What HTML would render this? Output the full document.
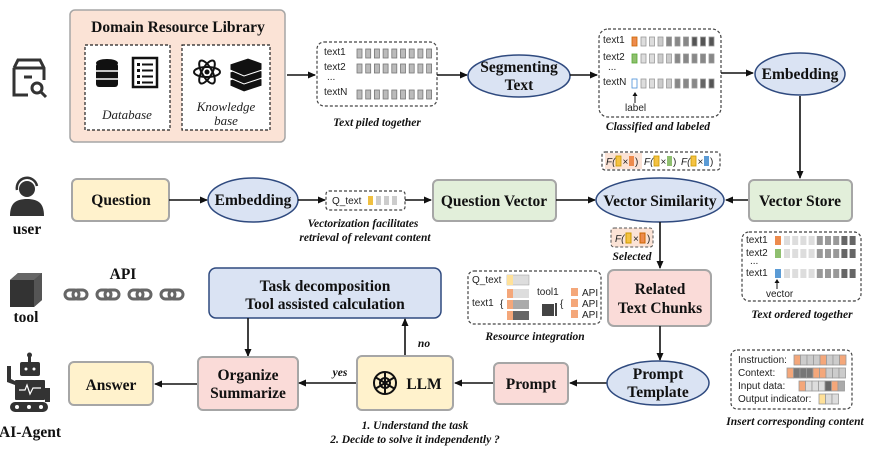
<!DOCTYPE html>
<html><head><meta charset="utf-8"><style>
html,body{margin:0;padding:0;background:#fff;}
svg{display:block;}
.t{font-family:"Liberation Serif",serif;font-weight:bold;font-size:15.5px;fill:#111;text-anchor:middle;}
.c{font-family:"Liberation Serif",serif;font-weight:bold;font-style:italic;font-size:11.5px;fill:#111;text-anchor:middle;}
.s{font-family:"Liberation Sans",sans-serif;font-size:10px;fill:#222;}
.i{font-family:"Liberation Serif",serif;font-style:italic;font-size:13px;fill:#222;text-anchor:middle;}
.ell{fill:#dae3f3;stroke:#2f4a7f;stroke-width:1.5;}
.box{stroke:#a6a6a6;stroke-width:2;}
.dash{fill:none;stroke:#444;stroke-width:1.2;stroke-dasharray:3,2;}
.ln{stroke:#111;stroke-width:1.6;fill:none;marker-end:url(#ah);}
</style></head><body>
<svg id="s" width="872" height="455" viewBox="0 0 872 455" xmlns="http://www.w3.org/2000/svg">
<defs><marker id="ah" markerWidth="8" markerHeight="8" refX="7" refY="4" orient="auto" markerUnits="userSpaceOnUse"><path d="M0,0.5 L8,4 L0,7.5z" fill="#111"/></marker></defs>

<g fill="none" stroke="#333" stroke-width="3">
<path d="M14,68 L14,95 L28,95"/><path d="M14,68 L18,60 L40,60 L44,68 L44,80"/><path d="M14,68 L44,68"/><path d="M24,77 L32,77"/>
<circle cx="37" cy="88" r="5"/><path d="M41,92 L46,97"/></g>

<rect x="70" y="10" width="215" height="132" rx="5" fill="#fbe3d6" stroke="#a6a6a6" stroke-width="1.5"/>
<text class="t" x="178" y="32" font-size="15">Domain Resource Library</text>
<rect x="85" y="45" width="85" height="85" fill="#fff" stroke="#222" stroke-width="1.2" stroke-dasharray="3,2"/>
<rect x="182" y="45" width="88" height="85" fill="#fff" stroke="#222" stroke-width="1.2" stroke-dasharray="3,2"/>
<g fill="#111"><ellipse cx="107" cy="63" rx="11" ry="4"/><rect x="96" y="63" width="22" height="24" rx="3"/></g>
<g stroke="#fff" stroke-width="1.5"><line x1="96" y1="71" x2="118" y2="71"/><line x1="96" y1="79" x2="118" y2="79"/></g>
<rect x="133" y="58" width="24" height="29" fill="none" stroke="#111" stroke-width="2.5"/>
<g fill="#111"><rect x="137" y="63" width="3" height="3"/><rect x="142" y="63.5" width="11" height="2"/><rect x="137" y="69" width="3" height="3"/><rect x="142" y="69.5" width="11" height="2"/><rect x="137" y="75" width="3" height="3"/><rect x="142" y="75.5" width="11" height="2"/><rect x="137" y="81" width="3" height="3"/><rect x="142" y="81.5" width="11" height="2"/></g>
<text class="i" x="127" y="119">Database</text>
<g fill="none" stroke="#111" stroke-width="2"><ellipse cx="207" cy="72" rx="13" ry="5"/><ellipse cx="207" cy="72" rx="13" ry="5" transform="rotate(60 207 72)"/><ellipse cx="207" cy="72" rx="13" ry="5" transform="rotate(-60 207 72)"/></g><circle cx="207" cy="72" r="2.5" fill="#111"/>
<g fill="#111" stroke="#fff" stroke-width="1"><path d="M230,80 L248,74 L262,79 L262,86 L244,92 L230,86z"/><path d="M230,72 L248,66 L262,71 L262,78 L244,84 L230,78z"/><path d="M230,64 L248,58 L262,63 L262,70 L244,76 L230,70z"/></g>
<text class="i" x="226" y="111">Knowledge</text><text class="i" x="226" y="125">base</text>

<line class="ln" x1="287" y1="75" x2="315" y2="75"/>
<rect class="dash" x="317" y="42" width="120" height="64" rx="7"/>
<text class="s" x="324" y="55">text1</text><text class="s" x="324" y="70">text2</text><text class="s" x="327" y="80" font-size="8">...</text><text class="s" x="324" y="95">textN</text>
<g id="pile"></g>
<text class="c" x="377" y="126">Text piled together</text>

<line class="ln" x1="437" y1="75" x2="467" y2="75"/>
<ellipse class="ell" cx="519" cy="76" rx="51" ry="21"/>
<text class="t" x="519" y="72">Segmenting</text><text class="t" x="519" y="90">Text</text>
<line class="ln" x1="570" y1="75" x2="597" y2="75"/>

<rect class="dash" x="599" y="29" width="122" height="88" rx="9"/>
<text class="s" x="603" y="43">text1</text><text class="s" x="603" y="60">text2</text><text class="s" x="608" y="70" font-size="8">...</text><text class="s" x="603" y="85">textN</text>
<g id="cls"></g>
<line x1="635" y1="103" x2="635" y2="94" stroke="#111" stroke-width="1"/><path d="M632.5,96 L635,92 L637.5,96z" fill="#111"/>
<text class="s" x="625" y="111">label</text>
<text class="c" x="658" y="130">Classified and labeled</text>

<line class="ln" x1="721" y1="73" x2="753" y2="73"/>
<ellipse class="ell" cx="800" cy="74" rx="45" ry="21"/>
<text class="t" x="800" y="79">Embedding</text>
<line class="ln" x1="800" y1="96" x2="800" y2="178"/>

<rect class="dash" x="602" y="152" width="118" height="18" rx="3"/>
<rect x="605" y="153" width="37" height="16" fill="#fbe3d6"/>
<g id="fb"></g>

<g><circle cx="27" cy="189" r="8" fill="#333"/><path d="M17,190 A10,10 0 0 1 37,186" fill="none" stroke="#333" stroke-width="2.5"/><path d="M10,216 C10,203 16,199 27,199 C38,199 44,203 44,216z" fill="#333"/></g>
<text class="t" x="27" y="234" font-size="14">user</text>
<rect class="box" x="72" y="179" width="97" height="42" rx="5" fill="#fff2cc"/>
<text class="t" x="121" y="205">Question</text>
<line class="ln" x1="169" y1="200" x2="207" y2="200"/>
<ellipse class="ell" cx="253" cy="200" rx="45" ry="22"/>
<text class="t" x="253" y="205">Embedding</text>
<line class="ln" x1="298" y1="200" x2="325" y2="200"/>
<rect class="dash" x="326" y="191" width="79" height="19" rx="3"/>
<text class="s" x="332" y="204">Q_text</text>
<rect x="368" y="196" width="5" height="9" fill="#f0c040"/><rect x="376" y="196" width="5" height="9" fill="#ccc"/><rect x="384" y="196" width="5" height="9" fill="#ccc"/><rect x="392" y="196" width="5" height="9" fill="#ccc"/>
<text class="c" x="363" y="227">Vectorization facilitates</text><text class="c" x="365" y="241">retrieval of relevant content</text>
<line class="ln" x1="405" y1="200" x2="431" y2="200"/>
<rect class="box" x="433" y="180" width="123" height="41" rx="5" fill="#e2efda"/>
<text class="t" x="494" y="206">Question Vector</text>
<line class="ln" x1="556" y1="200" x2="595" y2="200"/>
<ellipse class="ell" cx="660" cy="200" rx="64" ry="22"/>
<text class="t" x="660" y="206">Vector Similarity</text>
<line class="ln" x1="749" y1="200" x2="726" y2="200"/>
<rect class="box" x="749" y="180" width="103" height="41" rx="5" fill="#e2efda"/>
<text class="t" x="800" y="206">Vector Store</text>

<rect class="dash" x="742" y="232" width="119" height="69" rx="7"/>
<text class="s" x="746" y="243">text1</text><text class="s" x="746" y="256">text2</text><text class="s" x="750" y="264" font-size="8">...</text><text class="s" x="746" y="276">text1</text>
<g id="ord"></g>
<line x1="777" y1="289" x2="777" y2="281" stroke="#111"/><path d="M774.5,283 L777,279 L779.5,283z" fill="#111"/>
<text class="s" x="766" y="297">vector</text>
<text class="c" x="802" y="318">Text ordered together</text>

<line class="ln" x1="660" y1="222" x2="660" y2="268"/>
<rect x="611" y="228" width="42" height="19" rx="3" fill="#fbe3d6" stroke="#555" stroke-dasharray="3,2"/>
<text class="s" x="615" y="242" font-style="italic">F(</text><rect x="626" y="233" width="5" height="10" fill="#f5c242" stroke="#c90"/><text class="s" x="633" y="242">×</text><rect x="640" y="233" width="5" height="10" fill="#ed8b4d" stroke="#c60"/><text class="s" x="647" y="242">)</text>
<text class="c" x="632" y="260">Selected</text>

<rect class="box" x="608" y="270" width="103" height="56" rx="6" fill="#fadbd8"/>
<text class="t" x="660" y="294">Related</text><text class="t" x="660" y="313">Text Chunks</text>
<line class="ln" x1="660" y1="326" x2="660" y2="360"/>

<rect class="dash" x="468" y="271" width="133" height="53" rx="6"/>
<text class="s" x="472" y="283">Q_text</text>
<rect x="507" y="275" width="22" height="10" fill="#ddd" stroke="#999" stroke-width=".5"/><rect x="507" y="275" width="6" height="10" fill="#ffe199"/>
<text class="s" x="472" y="306">text1</text>
<text class="s" x="500" y="307" font-size="22" fill="#777">{</text>
<rect x="507" y="289" width="22" height="9" fill="#ddd"/><rect x="507" y="289" width="6" height="9" fill="#f4a77a"/>
<rect x="507" y="300" width="22" height="9" fill="#aaa"/><rect x="507" y="300" width="6" height="9" fill="#f4a77a"/>
<rect x="507" y="311" width="22" height="9" fill="#666"/><rect x="507" y="311" width="6" height="9" fill="#f4a77a"/>
<text class="s" x="537" y="295">tool1</text>
<rect x="542" y="304" width="12" height="12" fill="#444"/><rect x="555" y="303" width="2" height="13" fill="#444"/>
<text class="s" x="560" y="307" font-size="22" fill="#777">{</text>
<rect x="571" y="288" width="7" height="8" fill="#f4a77a"/><text class="s" x="582" y="296">API</text>
<rect x="571" y="299" width="7" height="8" fill="#f4a77a"/><text class="s" x="582" y="307">API</text>
<rect x="571" y="310" width="7" height="8" fill="#f4a77a"/><text class="s" x="582" y="318">API</text>
<text class="c" x="535" y="340">Resource integration</text>

<path d="M10,280 L18,273 L42,273 L42,300 L34,307 L10,307z" fill="#333"/><path d="M34,280 L42,273 L42,300 L34,307z" fill="#555"/><path d="M10,280 L18,273 L42,273 L34,280z" fill="#666"/>
<text class="t" x="26" y="322" font-size="14">tool</text>
<text class="t" x="123" y="279" font-size="14">API</text>
<g fill="none" stroke="#666" stroke-width="3">
<rect x="65" y="290" width="14" height="9" rx="4.5"/><rect x="73" y="290" width="14" height="9" rx="4.5"/>
<rect x="97" y="290" width="14" height="9" rx="4.5"/><rect x="105" y="290" width="14" height="9" rx="4.5"/>
<rect x="129" y="290" width="14" height="9" rx="4.5"/><rect x="137" y="290" width="14" height="9" rx="4.5"/>
<rect x="161" y="290" width="14" height="9" rx="4.5"/><rect x="169" y="290" width="14" height="9" rx="4.5"/></g>
<rect x="209" y="268" width="232" height="50" rx="7" fill="#dae3f3" stroke="#2f4a7f" stroke-width="1.5"/>
<text class="t" x="325" y="291">Task decomposition</text><text class="t" x="325" y="309">Tool assisted calculation</text>
<line class="ln" x1="248" y1="318" x2="248" y2="356"/>
<line class="ln" x1="405" y1="356" x2="405" y2="319"/>
<text class="c" x="424" y="347">no</text>

<g fill="#333"><rect x="20" y="362" width="20" height="14" rx="2"/><rect x="28" y="356" width="3" height="6"/><circle cx="29.5" cy="355" r="2.5"/><rect x="15" y="380" width="30" height="20" rx="1"/><rect x="10" y="402" width="38" height="10" rx="5"/><path d="M7,366 L7,382 L15,385 L15,381 L11,379 L11,366z"/><path d="M45,388 L50,388 L50,402 L45,402z"/></g>
<g fill="#fff"><circle cx="26" cy="369" r="1.5"/><circle cx="34" cy="369" r="1.5"/><circle cx="17" cy="407" r="2"/><circle cx="29" cy="407" r="2"/><circle cx="41" cy="407" r="2"/></g>
<path d="M19,390 L25,390 L27,385 L30,394 L33,388 L41,388" fill="none" stroke="#fff" stroke-width="1.2"/>
<text class="t" x="30" y="437" font-size="14">AI-Agent</text>
<rect class="box" x="69" y="362" width="84" height="43" rx="5" fill="#fff2cc"/>
<text class="t" x="111" y="390">Answer</text>
<line class="ln" x1="198" y1="384" x2="155" y2="384"/>
<rect class="box" x="198" y="357" width="100" height="53" rx="5" fill="#fadbd8"/>
<text class="t" x="248" y="380">Organize</text><text class="t" x="248" y="398">Summarize</text>
<line class="ln" x1="357" y1="383" x2="299" y2="383"/>
<text class="c" x="340" y="376">yes</text>
<rect class="box" x="357" y="356" width="96" height="54" rx="5" fill="#fff2cc"/>
<g fill="none" stroke="#111" stroke-width="2"><circle cx="385" cy="383" r="11"/><circle cx="385" cy="383" r="5"/><path d="M385,372 L385,394 M375,377 L395,389 M375,389 L395,377"/></g>
<text class="t" x="424" y="389" font-size="16">LLM</text>
<text class="c" x="415" y="429">1. Understand the task</text><text class="c" x="415" y="443">2. Decide to solve it independently ?</text>
<line class="ln" x1="494" y1="383" x2="455" y2="383"/>
<rect class="box" x="494" y="363" width="74" height="41" rx="5" fill="#fadbd8"/>
<text class="t" x="531" y="389">Prompt</text>
<line class="ln" x1="607" y1="383" x2="570" y2="383"/>
<ellipse class="ell" cx="658" cy="383" rx="51" ry="22"/>
<text class="t" x="658" y="379">Prompt</text><text class="t" x="658" y="397">Template</text>

<rect class="dash" x="731" y="350" width="121" height="59" rx="6"/>
<text class="s" x="738" y="363">Instruction:</text><text class="s" x="738" y="376">Context:</text><text class="s" x="738" y="389">Input data:</text><text class="s" x="738" y="402">Output indicator:</text>
<g id="ins"></g>
<text class="c" x="795" y="425">Insert corresponding content</text>
</svg>
<script>
var NS="http://www.w3.org/2000/svg";
function r(g,x,y,w,h,f,s){var e=document.createElementNS(NS,"rect");e.setAttribute("x",x);e.setAttribute("y",y);e.setAttribute("width",w);e.setAttribute("height",h);e.setAttribute("fill",f);if(s){e.setAttribute("stroke",s);e.setAttribute("stroke-width","0.8");}document.getElementById(g).appendChild(e);}
[49,64,90].forEach(function(y){for(var i=0;i<9;i++)r("pile",357+i*8.7,y,5,9,"#bbb","#777");});
var cols=[["#ed8b4d"],["#8fbf6f"],["#fff"]],strk=["#c60","#5a3","#4a8fd8"];
[[37,["#ddd","#ddd","#ccc","#888","#888","#888","#555","#555","#555"]],[54,["#ddd","#ddd","#ccc","#ccc","#888","#888","#888","#888","#888"]],[79,["#ddd","#ddd","#ccc","#ccc","#888","#888","#888","#666","#555"]]].forEach(function(a,k){r("cls",632,a[0],5,9,cols[k][0],strk[k]);for(var i=0;i<9;i++)r("cls",641+i*8.5,a[0],5,9,a[1][i],"#999");});
[[236,"#ed8b4d"],[249,"#8fbf6f"],[269,"#5b9bd5"]].forEach(function(a){r("ord",775,a[0],6,9,a[1]);for(var i=0;i<9;i++)r("ord",784+i*8.2,a[0],6,9,i<4?"#ddd":(i<7?"#999":"#666"));});
var fb=document.getElementById("fb");
function tx(x,y,s,it){var t=document.createElementNS(NS,"text");t.setAttribute("class","s");t.setAttribute("x",x);t.setAttribute("y",y);if(it)t.setAttribute("font-style","italic");t.textContent=s;fb.appendChild(t);}
[[606,"#ed8b4d"],[644,"#8fbf6f"],[681,"#5b9bd5"]].forEach(function(a){tx(a[0],165,"F(",1);r("fb",a[0]+10,156,5,10,"#f5c242","#c90");tx(a[0]+16.5,165,"×");r("fb",a[0]+23,156,5,10,a[1]);tx(a[0]+29,165,")");});
var ins=[[794,355,["#f4a77a","#ccc","#ccc","#ccc","#f4a77a","#ccc","#ccc","#f4a77a"]],[787,368,["#f4a77a","#777","#777","#777","#f4a77a","#f4a77a","#ccc","#ccc","#ccc"]],[799,381,["#f4a77a","#ddd","#ddd","#ddd","#666","#f4a77a","#aaa"]],[819,394,["#ffe199","#ddd","#ddd"]]];
ins.forEach(function(a){a[2].forEach(function(c,i){r("ins",a[0]+i*6.5,a[1],6.5,10,c,"#999");});});
</script>
</body></html>
